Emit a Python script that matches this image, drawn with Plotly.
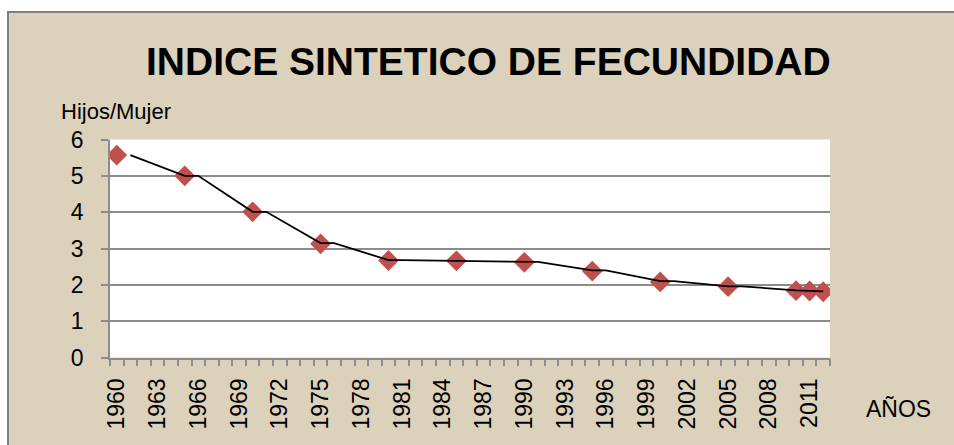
import plotly.graph_objects as go

# Data
years = [1960, 1965, 1970, 1975, 1980, 1985, 1990, 1995, 2000, 2005, 2010, 2011, 2012]
isf = [5.57, 5.0, 4.01, 3.13, 2.67, 2.66, 2.62, 2.38, 2.08, 1.95, 1.84, 1.83, 1.81]

# Black connecting line (as drawn in the original, shifted one year)
line_years = [1961, 1965, 1966, 1970, 1971, 1975, 1976, 1980, 1981, 1985, 1986,
              1990, 1991, 1995, 1996, 2000, 2001, 2005, 2006, 2010, 2011, 2012]
line_vals = [5.57, 5.0, 5.0, 4.01, 4.01, 3.15, 3.15, 2.68, 2.68, 2.66, 2.66,
             2.63, 2.63, 2.40, 2.40, 2.10, 2.10, 1.96, 1.96, 1.85, 1.84, 1.82]

tick_years = list(range(1960, 2012, 3))
tick_labels = [str(y) for y in tick_years]

W, H = 954, 445
BG = "#DCD2BC"
GRID = "#8C8C8C"
FONT = "Liberation Sans, Arial, sans-serif"

fig = go.Figure()
fig.add_trace(go.Scatter(x=years, y=isf, mode="markers",
                         marker=dict(symbol="diamond", size=16, color="#C0504D"),
                         showlegend=False, hoverinfo="x+y"))
fig.add_trace(go.Scatter(x=line_years, y=line_vals, mode="lines",
                         line=dict(color="black", width=1.8),
                         showlegend=False, hoverinfo="skip"))

fig.update_layout(
    width=W, height=H,
    margin=dict(l=0, r=0, t=0, b=0, pad=0),
    paper_bgcolor=BG,
    plot_bgcolor="white",
    font=dict(family=FONT, color="black", size=22),
    xaxis=dict(
        domain=[110 / W, 830 / W],
        range=[1959.5, 2012.5],
        automargin=False,
        tickmode="array", tickvals=tick_years, ticktext=tick_labels,
        tickangle=-90, ticks="outside", ticklen=0, tickcolor=GRID,
        showline=True, linecolor=GRID, linewidth=1.5,
        showgrid=False, zeroline=False,
        tickfont=dict(size=23),
        ticklabelstandoff=10,
        minor=dict(tickmode="linear", tick0=1959.5, dtick=1, ticks="outside",
                   ticklen=7, tickcolor=GRID, tickwidth=1.5, showgrid=False),
    ),
    yaxis=dict(
        domain=[1 - 357.5 / H, 1 - 139.5 / H],
        range=[0, 6], dtick=1, tick0=0,
        automargin=False,
        ticks="outside", ticklen=7, tickcolor=GRID, tickwidth=1.5,
        showline=True, linecolor=GRID, linewidth=1.5,
        showgrid=True, gridcolor=GRID, gridwidth=1.5,
        zeroline=False,
        tickfont=dict(size=23),
        ticklabelstandoff=13,
    ),
    shapes=[
        dict(type="rect", xref="paper", yref="paper", layer="above",
             x0=-0.01, x1=7 / W, y0=-0.01, y1=1.01, fillcolor="white", line=dict(width=0)),
        dict(type="rect", xref="paper", yref="paper", layer="above",
             x0=-0.01, x1=1.01, y0=1 - 11 / H, y1=1.01, fillcolor="white", line=dict(width=0)),
        dict(type="rect", xref="paper", yref="paper", layer="above",
             x0=8 / W, x1=1.02, y0=-0.02, y1=1 - 12 / H,
             fillcolor="rgba(0,0,0,0)", line=dict(color="#7F7F7F", width=2)),
    ],
    annotations=[
        dict(text="<b>INDICE SINTETICO DE FECUNDIDAD</b>", xref="paper", yref="paper",
             x=488 / W, y=1 - 62 / H, xanchor="center", yanchor="middle",
             showarrow=False,
             font=dict(family=FONT, size=39)),
        dict(text="Hijos/Mujer", xref="paper", yref="paper",
             x=59 / W, y=1 - 111 / H, xanchor="left", yanchor="middle",
             showarrow=False, font=dict(size=22)),
        dict(text="AÑOS", xref="paper", yref="paper",
             x=864 / W, y=1 - 409 / H, xanchor="left", yanchor="middle",
             showarrow=False, font=dict(size=23)),
    ],
)

fig.write_html(
    "out.html",
    config={"displayModeBar": False},
    post_script="document.body.style.margin='0';document.body.style.overflow='hidden';",
)
